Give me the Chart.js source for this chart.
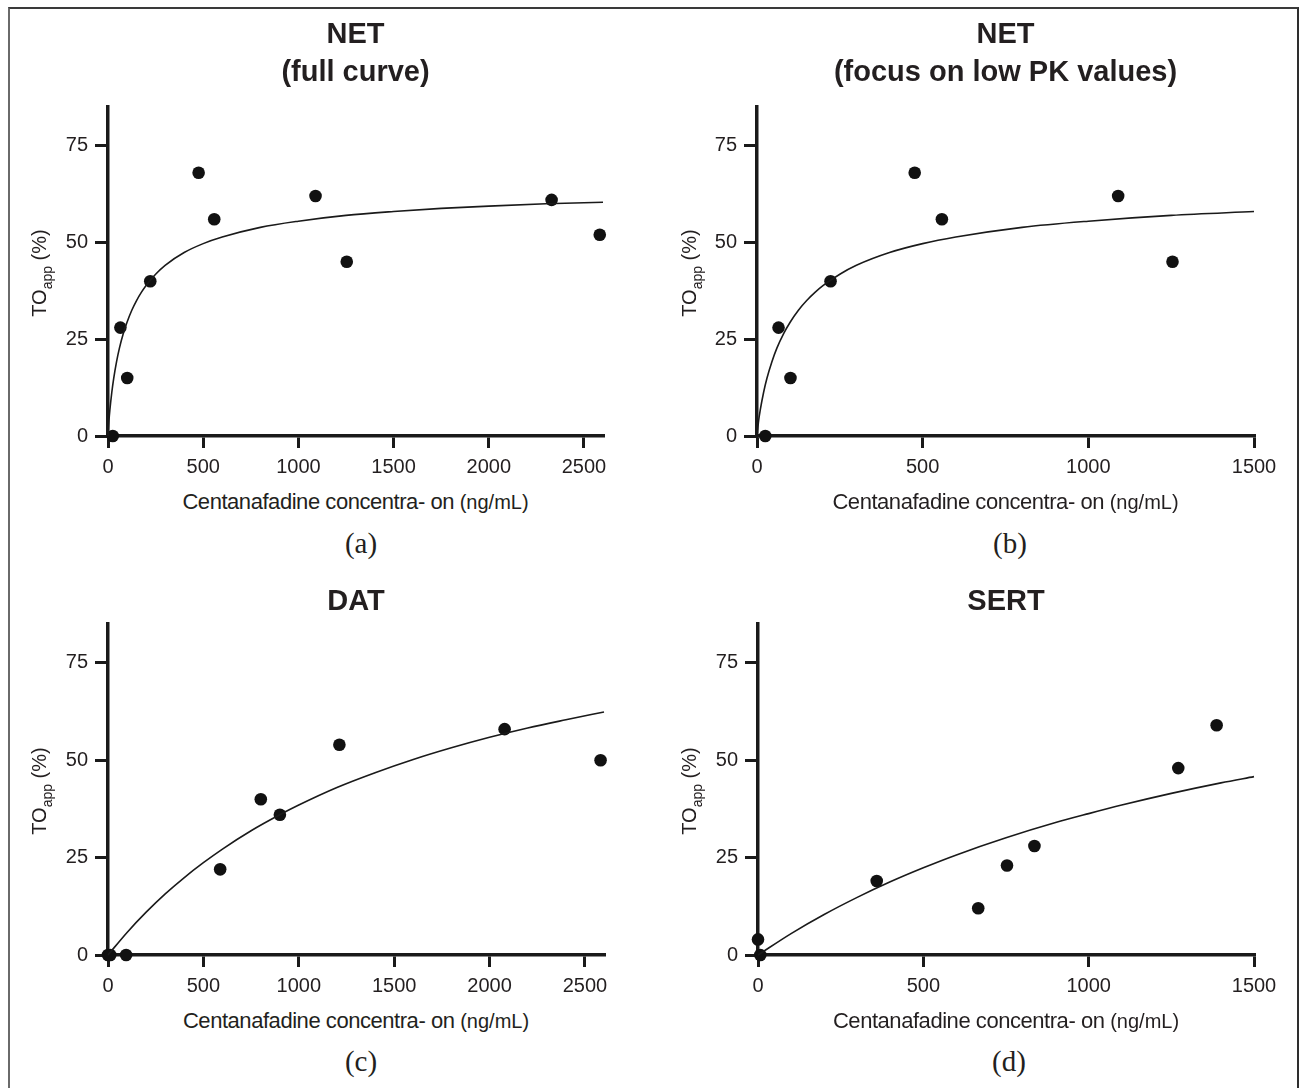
<!DOCTYPE html>
<html><head><meta charset="utf-8">
<script src="https://cdn.jsdelivr.net/npm/chart.js@4.4.1/dist/chart.umd.min.js"></script>
<style>
html,body{margin:0;padding:0;background:#fff;}
body{width:1300px;height:1088px;position:relative;overflow:hidden;font-family:"Liberation Sans",Arial,sans-serif;color:#231f20;}
.frame{position:absolute;left:8px;top:7px;width:1291px;height:1100px;box-sizing:border-box;border-top:2px solid #3a3a3a;border-left:2px solid #6a6a6a;border-right:2px solid #2e2e2e;}
canvas{position:absolute;}
.title{position:absolute;width:600px;text-align:center;font-weight:bold;font-size:29px;line-height:38px;}
.xlab{position:absolute;width:600px;text-align:center;font-size:22px;line-height:26px;letter-spacing:-0.45px;white-space:nowrap;}
.xlab span{font-size:20px;letter-spacing:0;}
.ylab{position:absolute;width:200px;height:24px;text-align:center;font-size:20px;line-height:24px;transform:rotate(-90deg);white-space:nowrap;}
.ylab span{font-size:14px;position:relative;top:6px;}
.plab{position:absolute;width:100px;text-align:center;font-family:"Liberation Serif","Times New Roman",serif;font-size:29px;line-height:34px;}
</style></head>
<body>
<div class="frame"></div>
<script>
// ---------- data ----------
const netX = [25, 65, 101, 222, 476, 558, 1090, 1254, 2330, 2583];
const netY = [0, 28, 15, 40, 68, 56, 62, 45, 61, 52];
const netCurveX = [0, 5, 10, 20, 30, 45, 60, 80, 100, 125, 150, 175, 200, 250, 300, 400, 500, 600, 800, 1000, 1250, 1500, 1750, 2000, 2300, 2600];
const netCurveY = [0, 4.0, 6.8, 11.3, 14.9, 19.2, 22.7, 26.4, 29.4, 32.5, 35.0, 37.1, 38.9, 41.8, 44.1, 47.4, 49.7, 51.4, 53.9, 55.5, 57.0, 58.0, 58.8, 59.4, 60.0, 60.4];

const datX = [0, 12, 95, 588, 801, 901, 1213, 2079, 2582];
const datY = [0, 0, 0, 22, 40, 36, 54, 58, 50];
const datCurveX = [0, 100, 200, 300, 400, 500, 600, 750, 900, 1000, 1200, 1400, 1600, 1800, 2000, 2200, 2400, 2600];
const datCurveY = [0, 5.8, 11.0, 15.7, 19.9, 23.7, 27.2, 31.9, 36.0, 38.5, 43.0, 46.8, 50.2, 53.2, 55.9, 58.3, 60.4, 62.4];

const sertX = [0, 7, 359, 666, 753, 836, 1271, 1387];
const sertY = [4, 0, 19, 12, 23, 28, 48, 59];
const sertCurveX = [0, 100, 200, 300, 400, 500, 600, 750, 900, 1000, 1100, 1250, 1400, 1500];
const sertCurveY = [0, 5.5, 10.4, 14.8, 18.8, 22.4, 25.7, 30.1, 34.0, 36.3, 38.5, 41.5, 44.2, 45.8];

const yTicks = [0, 25, 50, 75];
const xTicksFull = [0, 500, 1000, 1500, 2000, 2500];
const xTicksLow = [0, 500, 1000, 1500];
const yMax = 85;

const titles = [["NET", "(full curve)"], ["NET", "(focus on low PK values)"], ["DAT"], ["SERT"]];
const panelLabels = ["(a)", "(b)", "(c)", "(d)"];
const xAxisTitle = "Centanafadine concentra- on";
const xAxisUnit = "(ng/mL)";

// ---------- layout ----------
const panels = [
  {left:0,   top:0,   axisLeft:108, axisRight:603,  plotTop:107, plotBottom:436, xmax:2600, xt:xTicksFull, x:netX, y:netY, cx:netCurveX, cy:netCurveY, titleTop:14,  xlabTop:489, plabTop:526,  plabC:361},
  {left:650, top:0,   axisLeft:757, axisRight:1254, plotTop:107, plotBottom:436, xmax:1500, xt:xTicksLow,  x:netX, y:netY, cx:netCurveX, cy:netCurveY, titleTop:14,  xlabTop:489, plabTop:526,  plabC:1010},
  {left:0,   top:520, axisLeft:108, axisRight:604,  plotTop:624, plotBottom:955, xmax:2600, xt:xTicksFull, x:datX, y:datY, cx:datCurveX, cy:datCurveY, titleTop:581, xlabTop:1008, plabTop:1044, plabC:361},
  {left:650, top:520, axisLeft:758, axisRight:1254, plotTop:624, plotBottom:955, xmax:1500, xt:xTicksLow,  x:sertX, y:sertY, cx:sertCurveX, cy:sertCurveY, titleTop:581, xlabTop:1008, plabTop:1044, plabC:1009}
];
const CW = 650, CH = 480;
const INK = '#1a1a1a';

Chart.defaults.font.family = '"Liberation Sans", Arial, sans-serif';
Chart.defaults.color = '#231f20';

function addDiv(cls, html, left, top) {
  const d = document.createElement('div');
  d.className = cls; d.innerHTML = html;
  d.style.left = left + 'px'; d.style.top = top + 'px';
  document.body.appendChild(d);
  return d;
}

panels.forEach((p, i) => {
  const c = document.createElement('canvas');
  c.width = CW; c.height = CH;
  c.style.left = p.left + 'px'; c.style.top = p.top + 'px';
  c.style.width = CW + 'px'; c.style.height = CH + 'px';
  document.body.appendChild(c);

  const ax = p.axisLeft - p.left, ar = p.axisRight - p.left;
  const pt = p.plotTop - p.top, pb = p.plotBottom - p.top;

  const curve = p.cx.map((v, k) => ({x: v, y: p.cy[k]})).filter(d => d.x <= p.xmax);
  const pts = p.x.map((v, k) => ({x: v, y: p.y[k]})).filter(d => d.x <= p.xmax);

  new Chart(c, {
    type: 'scatter',
    data: {datasets: [
      {data: curve, showLine: true, pointRadius: 0, borderColor: INK, borderWidth: 1.6,
       cubicInterpolationMode: 'monotone', fill: false, clip: 2},
      {data: pts, showLine: false, pointRadius: 6.3, pointHoverRadius: 6.3,
       backgroundColor: '#111', borderWidth: 0, clip: 10}
    ]},
    options: {
      responsive: false, animation: false, devicePixelRatio: 1,
      layout: {padding: {left: 0, top: pt, right: CW - ar, bottom: 0}},
      plugins: {legend: {display: false}, tooltip: {enabled: false}, title: {display: false}},
      events: [],
      scales: {
        x: {
          type: 'linear', min: 0, max: p.xmax,
          afterBuildTicks: s => { s.ticks = p.xt.map(v => ({value: v})); },
          afterFit: s => { s.height = CH - pb; },
          grid: {drawOnChartArea: false, drawTicks: true, tickLength: 12, color: INK, lineWidth: 3},
          border: {display: true, color: INK, width: 3.5},
          ticks: {padding: 7, color: '#231f20', font: {size: 20}, maxRotation: 0, autoSkip: false,
                  callback: v => String(v)}
        },
        y: {
          type: 'linear', min: 0, max: yMax,
          afterBuildTicks: s => { s.ticks = yTicks.map(v => ({value: v})); },
          afterFit: s => { s.width = ax; },
          grid: {drawOnChartArea: false, drawTicks: true, tickLength: 13, color: INK, lineWidth: 3},
          border: {display: true, color: INK, width: 3.5},
          ticks: {padding: 7, color: '#231f20', font: {size: 20}, autoSkip: false,
                  callback: v => String(v)}
        }
      }
    }
  });

  const plotC = (p.axisLeft + p.axisRight) / 2;
  addDiv('title', titles[i].join('<br>'), plotC - 300, p.titleTop);
  addDiv('xlab', xAxisTitle + ' <span>' + xAxisUnit + '</span>', plotC - 300, p.xlabTop);
  const cy = (p.plotTop + p.plotBottom) / 2 + 1.5;
  addDiv('ylab', 'TO<span>app</span> (%)', p.left + 39 - 100, cy - 12);
  addDiv('plab', panelLabels[i], p.plabC - 50, p.plabTop);
});
</script>
</body></html>
